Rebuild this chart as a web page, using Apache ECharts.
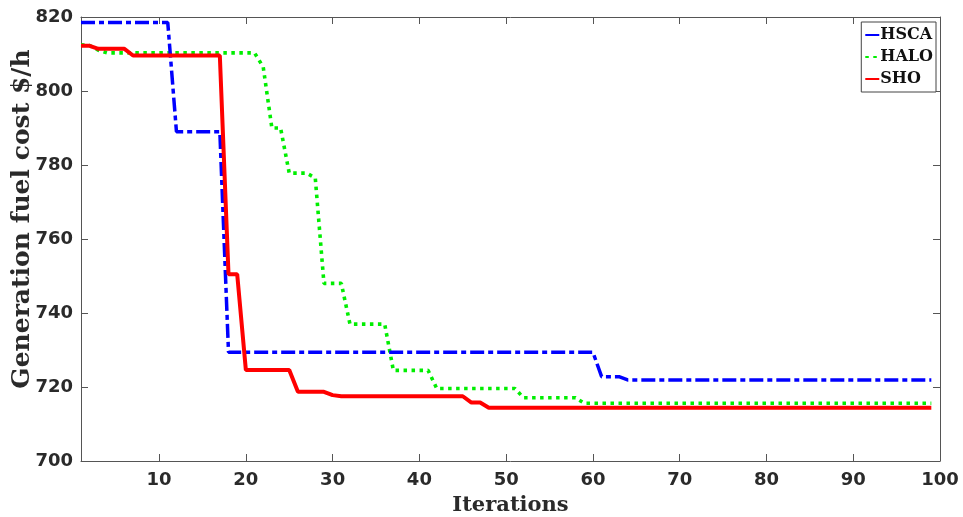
<!DOCTYPE html>
<html>
<head>
<meta charset="utf-8">
<script src="https://cdn.jsdelivr.net/npm/echarts@6/dist/echarts.min.js"></script>
<style>
  html, body { margin: 0; padding: 0; background: #fff; }
  #chart { width: 963px; height: 517px; }
</style>
</head>
<body>
<div id="chart"></div>
<script>
// iterations 1..99
const iterations = []
for (let i = 1; i <= 99; i++) iterations.push(i)

const xTicks = [10, 20, 30, 40, 50, 60, 70, 80, 90, 100]

// values, one row per ten iterations
const hsca = [
  818.5, 818.5, 818.5, 818.5, 818.5, 818.5, 818.5, 818.5, 818.5, 818.5,
  818.5, 789, 789, 789, 789, 789, 789, 729.4, 729.4, 729.4,
  729.4, 729.4, 729.4, 729.4, 729.4, 729.4, 729.4, 729.4, 729.4, 729.4,
  729.4, 729.4, 729.4, 729.4, 729.4, 729.4, 729.4, 729.4, 729.4, 729.4,
  729.4, 729.4, 729.4, 729.4, 729.4, 729.4, 729.4, 729.4, 729.4, 729.4,
  729.4, 729.4, 729.4, 729.4, 729.4, 729.4, 729.4, 729.4, 729.4, 729.4,
  722.8, 722.8, 722.8, 721.9, 721.9, 721.9, 721.9, 721.9, 721.9, 721.9,
  721.9, 721.9, 721.9, 721.9, 721.9, 721.9, 721.9, 721.9, 721.9, 721.9,
  721.9, 721.9, 721.9, 721.9, 721.9, 721.9, 721.9, 721.9, 721.9, 721.9,
  721.9, 721.9, 721.9, 721.9, 721.9, 721.9, 721.9, 721.9, 721.9
]

const halo = [
  812.5, 812.3, 811, 810.3, 810.3, 810.3, 810.3, 810.3, 810.3, 810.3,
  810.3, 810.3, 810.3, 810.3, 810.3, 810.3, 810.3, 810.3, 810.3, 810.3,
  810.3, 806.5, 790, 790, 777.8, 777.8, 777.8, 776.5, 748, 748,
  748, 737, 737, 737, 737, 737, 724.5, 724.5, 724.5, 724.5,
  724.5, 719.6, 719.6, 719.6, 719.6, 719.6, 719.6, 719.6, 719.6, 719.6,
  719.6, 717.1, 717.1, 717.1, 717.1, 717.1, 717.1, 717.1, 715.6, 715.6,
  715.6, 715.6, 715.6, 715.6, 715.6, 715.6, 715.6, 715.6, 715.6, 715.6,
  715.6, 715.6, 715.6, 715.6, 715.6, 715.6, 715.6, 715.6, 715.6, 715.6,
  715.6, 715.6, 715.6, 715.6, 715.6, 715.6, 715.6, 715.6, 715.6, 715.6,
  715.6, 715.6, 715.6, 715.6, 715.6, 715.6, 715.6, 715.6, 715.6
]

const sho = [
  812.2, 812.2, 811.4, 811.4, 811.4, 811.4, 809.6, 809.6, 809.6, 809.6,
  809.6, 809.6, 809.6, 809.6, 809.6, 809.6, 809.6, 750.5, 750.5, 724.6,
  724.6, 724.6, 724.6, 724.6, 724.6, 718.7, 718.7, 718.7, 718.7, 717.8,
  717.5, 717.5, 717.5, 717.5, 717.5, 717.5, 717.5, 717.5, 717.5, 717.5,
  717.5, 717.5, 717.5, 717.5, 717.5, 715.8, 715.8, 714.4, 714.4, 714.4,
  714.4, 714.4, 714.4, 714.4, 714.4, 714.4, 714.4, 714.4, 714.4, 714.4,
  714.4, 714.4, 714.4, 714.4, 714.4, 714.4, 714.4, 714.4, 714.4, 714.4,
  714.4, 714.4, 714.4, 714.4, 714.4, 714.4, 714.4, 714.4, 714.4, 714.4,
  714.4, 714.4, 714.4, 714.4, 714.4, 714.4, 714.4, 714.4, 714.4, 714.4,
  714.4, 714.4, 714.4, 714.4, 714.4, 714.4, 714.4, 714.4, 714.4
]

const pairs = vals => iterations.map((it, i) => [it, vals[i]])

const axisColor = '#555'
const tickFont = { fontFamily: 'DejaVu Sans', fontWeight: 'bold', fontSize: 18, color: '#2a2a2a' }
const nameFont = { fontFamily: 'DejaVu Serif', fontWeight: 'bold', color: '#2a2a2a' }

let myChart = echarts.init(document.getElementById('chart'))

let option = {
  animation: false,
  grid: { left: 81, right: 23, top: 17, bottom: 56, outerBoundsMode: 'none', containLabel: false },
  legend: {
    orient: 'vertical',
    right: 27,
    top: 22,
    backgroundColor: '#fff',
    borderColor: '#444',
    borderWidth: 1,
    padding: [5, 3, 5, 3],
    itemWidth: 14,
    itemHeight: 10,
    itemGap: 6,
    itemStyle: { opacity: 0 },
    textStyle: { fontFamily: 'DejaVu Serif', fontWeight: 'bold', fontSize: 16, color: '#111', padding: [0, 0, 0, -4] },
    data: ['HSCA', 'HALO', 'SHO']
  },
  xAxis: [
    {
      type: 'value',
      min: 1,
      max: 100,
      name: 'Iterations',
      nameLocation: 'middle',
      nameGap: 34,
      nameTextStyle: Object.assign({ fontSize: 21 }, nameFont),
      axisLine: { show: true, lineStyle: { color: axisColor } },
      axisTick: { show: true, inside: true, length: 7, customValues: xTicks, lineStyle: { color: axisColor } },
      axisLabel: Object.assign({ customValues: xTicks, margin: 10 }, tickFont),
      splitLine: { show: false }
    },
    {
      type: 'value',
      position: 'top',
      min: 1,
      max: 100,
      axisLine: { show: true, lineStyle: { color: axisColor } },
      axisTick: { show: true, inside: true, length: 7, customValues: xTicks, lineStyle: { color: axisColor } },
      axisLabel: { show: false },
      splitLine: { show: false }
    }
  ],
  yAxis: [
    {
      type: 'value',
      min: 700,
      max: 820,
      interval: 20,
      name: 'Generation fuel cost $/h',
      nameLocation: 'middle',
      nameGap: 46,
      nameMoveOverlap: false,
      nameTextStyle: Object.assign({ fontSize: 25, padding: [0, 0, 0, 40] }, nameFont),
      axisLine: { show: true, lineStyle: { color: axisColor } },
      axisTick: { show: true, inside: true, length: 7, lineStyle: { color: axisColor } },
      axisLabel: Object.assign({ margin: 8 }, tickFont),
      splitLine: { show: false }
    },
    {
      type: 'value',
      position: 'right',
      min: 700,
      max: 820,
      interval: 20,
      axisLine: { show: true, lineStyle: { color: axisColor } },
      axisTick: { show: true, inside: true, length: 7, lineStyle: { color: axisColor } },
      axisLabel: { show: false },
      splitLine: { show: false }
    }
  ],
  series: [
    {
      name: 'HSCA',
      type: 'line',
      symbol: 'none',
      color: '#0000ff',
      data: pairs(hsca),
      lineStyle: { width: 3.5, color: '#0000ff', type: [14, 4, 5, 4] },
      z: 3
    },
    {
      name: 'HALO',
      type: 'line',
      symbol: 'none',
      color: '#00ee00',
      data: pairs(halo),
      lineStyle: { width: 3.6, color: '#00ee00', type: [3.5, 4.5] },
      z: 2
    },
    {
      name: 'SHO',
      type: 'line',
      symbol: 'none',
      color: '#ff0000',
      data: pairs(sho),
      lineStyle: { width: 4, color: '#ff0000' },
      z: 4
    }
  ]
}

myChart.setOption(option)
</script>
</body>
</html>
